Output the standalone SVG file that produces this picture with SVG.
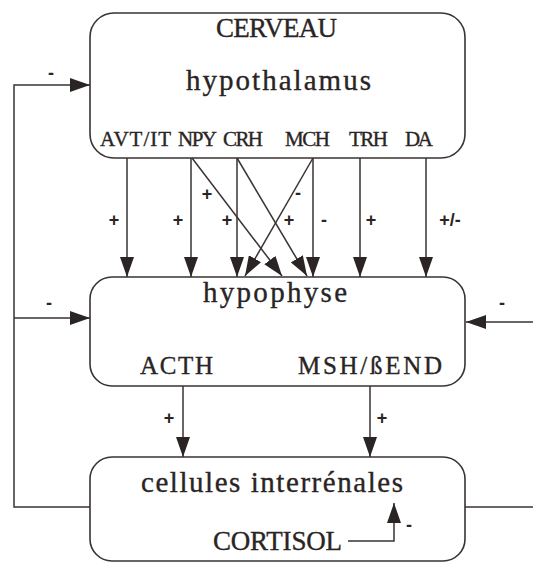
<svg xmlns="http://www.w3.org/2000/svg" width="533" height="563" viewBox="0 0 533 563">
<style>
.box{fill:#fff;stroke:#3a3333;stroke-width:1.6}
.ln{fill:none;stroke:#3a3333;stroke-width:1.5}
.t{font-family:"Liberation Serif","Times New Roman",serif;fill:#2a2424;stroke:#2a2424;stroke-width:0.35}
.big{font-size:27px}
.low{font-size:29px}
.lab{font-size:21px}
.mid{font-size:25px}
.sg{font-family:"Liberation Sans",Arial,sans-serif;font-size:18px;font-weight:bold;fill:#2a2424;text-anchor:middle}
</style>
<defs>
<marker id="ah" markerUnits="userSpaceOnUse" markerWidth="20" markerHeight="14" refX="20" refY="7" orient="auto">
<path d="M0,0 L20,7 L0,14 z" fill="#2a2424"/>
</marker>
</defs>
<rect width="533" height="563" fill="#fff"/>
<g id="cerveau">
<rect class="box" x="90" y="13" width="375" height="145" rx="24"/>
<text class="t big" x="216" y="37" textLength="121" lengthAdjust="spacing">CERVEAU</text>
<text class="t low" x="186" y="90" textLength="185" lengthAdjust="spacing">hypothalamus</text>
<text class="t lab" x="100" y="146" textLength="71" lengthAdjust="spacing">AVT/IT</text>
<text class="t lab" x="178" y="146" textLength="39" lengthAdjust="spacing">NPY</text>
<text class="t lab" x="223" y="146" textLength="40" lengthAdjust="spacing">CRH</text>
<text class="t lab" x="285" y="146" textLength="45" lengthAdjust="spacing">MCH</text>
<text class="t lab" x="349" y="146" textLength="39" lengthAdjust="spacing">TRH</text>
<text class="t lab" x="405" y="146" textLength="28" lengthAdjust="spacing">DA</text>
</g>
<g id="hypophyse">
<rect class="box" x="90" y="277" width="375" height="109" rx="22"/>
<text class="t low" x="203" y="302" textLength="144" lengthAdjust="spacing">hypophyse</text>
<text class="t mid" x="140" y="374" textLength="73" lengthAdjust="spacing">ACTH</text>
<text class="t mid" x="298" y="374" textLength="144" lengthAdjust="spacing">MSH/ßEND</text>
</g>
<g id="interrenales">
<rect class="box" x="90" y="457" width="375" height="104" rx="22"/>
<text class="t low" x="141" y="492" textLength="262" lengthAdjust="spacing">cellules interrénales</text>
<text class="t big" x="213" y="550" textLength="129" lengthAdjust="spacing">CORTISOL</text>
</g>
<g id="connectors">
<line class="ln" x1="127" y1="158" x2="127" y2="277" marker-end="url(#ah)"/>
<line class="ln" x1="191" y1="158" x2="191" y2="277" marker-end="url(#ah)"/>
<line class="ln" x1="237" y1="158" x2="237" y2="277" marker-end="url(#ah)"/>
<line class="ln" x1="313" y1="158" x2="313" y2="277" marker-end="url(#ah)"/>
<line class="ln" x1="360" y1="158" x2="360" y2="277" marker-end="url(#ah)"/>
<line class="ln" x1="426" y1="158" x2="426" y2="277" marker-end="url(#ah)"/>
<line class="ln" x1="192" y1="158" x2="282" y2="276" marker-end="url(#ah)"/>
<line class="ln" x1="237" y1="158" x2="307" y2="276" marker-end="url(#ah)"/>
<line class="ln" x1="313" y1="158" x2="245" y2="276" marker-end="url(#ah)"/>
<line class="ln" x1="183" y1="386" x2="183" y2="457" marker-end="url(#ah)"/>
<line class="ln" x1="370" y1="386" x2="370" y2="457" marker-end="url(#ah)"/>
<polyline class="ln" points="90,507 14,507 14,85 90,85" marker-end="url(#ah)"/>
<line class="ln" x1="14" y1="318" x2="90" y2="318" marker-end="url(#ah)"/>
<line class="ln" x1="533" y1="322" x2="466" y2="322" marker-end="url(#ah)"/>
<line class="ln" x1="465" y1="507" x2="533" y2="507"/>
<polyline class="ln" points="348,541 394,541 394,503" marker-end="url(#ah)"/>
<text class="sg" x="51" y="79">-</text>
<text class="sg" x="49" y="309">-</text>
<text class="sg" x="502" y="309">-</text>
<text class="sg" x="409" y="531">-</text>
<text class="sg" x="114" y="226">+</text>
<text class="sg" x="178" y="226">+</text>
<text class="sg" x="227" y="226">+</text>
<text class="sg" x="289" y="226">+</text>
<text class="sg" x="324" y="226">-</text>
<text class="sg" x="371" y="226">+</text>
<text class="sg" x="450" y="226">+/-</text>
<text class="sg" x="207" y="200">+</text>
<text class="sg" x="298" y="199">-</text>
<text class="sg" x="169" y="424">+</text>
<text class="sg" x="382" y="424">+</text>
</g>
</svg>
